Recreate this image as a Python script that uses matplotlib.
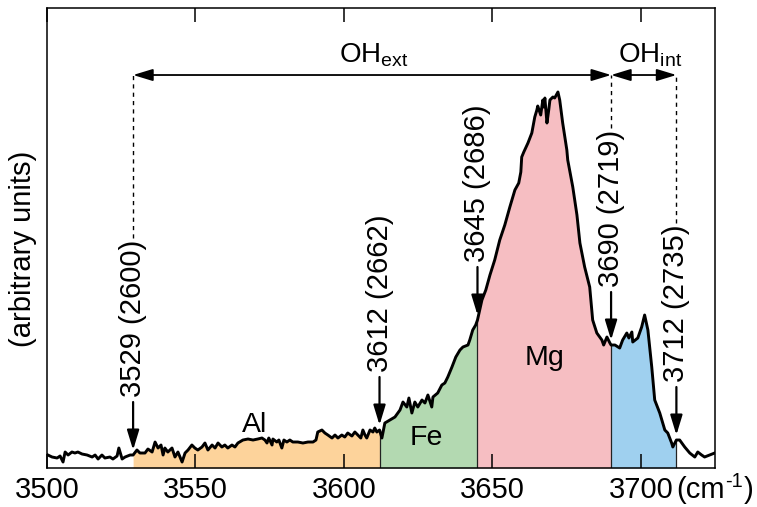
import numpy as np
import matplotlib
matplotlib.use("Agg")
import matplotlib.pyplot as plt

plt.rcParams["font.family"] = ["Liberation Sans", "DejaVu Sans"]
plt.rcParams["mathtext.fontset"] = "custom"
plt.rcParams["mathtext.rm"] = "Liberation Sans"
plt.rcParams["mathtext.it"] = "Liberation Sans:italic"

###############################################################
# data (intensity in arbitrary units)
###############################################################
wavenumber = [
    3500.3, 3501.7, 3503.4, 3504.4, 3505.4, 3506.1, 3507.1, 3508.4, 3509.4, 3510.4,
    3511.8, 3513.5, 3515.2, 3516.2, 3517.2, 3518.5, 3519.5, 3521.2, 3522.2, 3523.6,
    3524.2, 3525.3, 3526.3, 3528.0, 3529.0,
    3530.3, 3531.3, 3533.0, 3534.0, 3535.4, 3536.4, 3537.4, 3538.4, 3539.1, 3539.7,
    3540.7, 3542.1, 3543.1, 3544.1, 3545.5, 3546.5, 3547.5, 3548.8, 3549.8, 3550.8,
    3552.2, 3553.2, 3554.2, 3555.6, 3556.6, 3557.6, 3558.9, 3559.9, 3560.9, 3562.3,
    3563.3, 3564.3, 3566.0, 3567.7, 3569.4, 3571.0, 3572.4, 3573.4, 3574.1, 3574.7,
    3575.8, 3576.1, 3577.4, 3578.1, 3579.1, 3579.8, 3580.8, 3581.8, 3582.8, 3584.5,
    3586.2, 3587.9, 3589.6, 3590.6, 3591.2, 3592.6, 3593.6, 3594.6, 3596.0, 3597.0,
    3598.0, 3599.3, 3600.3, 3601.3, 3602.7, 3603.7, 3604.7, 3605.7, 3606.4, 3607.1,
    3607.7, 3608.8, 3609.8, 3610.4, 3611.1, 3612.0,
    3612.8, 3613.8, 3615.5, 3617.2, 3618.9, 3619.9, 3621.2, 3621.9, 3622.9, 3623.9,
    3624.9, 3626.3, 3627.3, 3628.3, 3629.6, 3630.0, 3631.6, 3633.0, 3634.0, 3635.0,
    3636.4, 3637.7, 3639.1, 3640.1, 3641.8, 3642.4, 3643.4, 3644.4, 3645.0,
    3646.5, 3647.8, 3649.2, 3650.8, 3652.5, 3654.2, 3655.9, 3657.6, 3658.9, 3659.6,
    3659.9, 3660.6, 3662.0, 3663.3, 3664.3, 3665.0, 3665.3, 3666.3, 3667.0, 3667.3,
    3667.7, 3668.4, 3669.0, 3669.4, 3670.4, 3671.0, 3672.1, 3672.7, 3673.7, 3675.1,
    3675.4, 3677.1, 3678.5, 3679.5, 3681.1, 3682.8, 3683.8, 3685.2, 3686.9, 3687.5,
    3688.6, 3689.6, 3690.0,
    3691.3, 3692.9, 3693.9, 3695.3, 3696.0, 3697.0, 3697.3, 3699.0, 3700.3, 3701.3,
    3702.4, 3703.7, 3704.7, 3706.4, 3708.1, 3709.1, 3710.4, 3710.8, 3712.0,
    3713.1, 3714.8, 3716.5, 3718.2, 3719.2, 3720.5, 3721.5, 3723.2, 3724.9,
]
intensity = [
    13, 11, 10, 12, 6, 16, 13, 16, 15, 16,
    14, 13, 11, 13, 9, 13, 10, 11, 9, 12,
    20, 9, 11, 13, 13,
    18, 15, 15, 19, 16, 26, 20, 23, 13, 20,
    16, 20, 11, 16, 6, 15, 18, 23, 20, 18,
    21, 25, 18, 23, 20, 25, 21, 23, 20, 23,
    21, 25, 28, 29, 28, 29, 30, 28, 25, 30,
    23, 29, 26, 28, 20, 28, 26, 28, 26, 26,
    25, 26, 26, 28, 36, 38, 35, 33, 30, 33,
    30, 33, 31, 35, 32, 36, 33, 30, 38, 33,
    30, 38, 36, 40, 36, 38,
    30, 45, 48, 51, 58, 66, 61, 70, 55, 66,
    61, 68, 65, 73, 61, 71, 75, 83, 85, 91,
    101, 111, 118, 121, 123, 128, 138, 143, 148,
    168, 178, 193, 208, 228, 243, 261, 278, 285, 296,
    311, 316, 325, 335, 351, 358, 362, 353, 368, 361,
    370, 345, 358, 368, 371, 370, 376, 368, 345, 318,
    308, 281, 253, 225, 201, 181, 148, 135, 128, 123,
    131, 125, 123,
    123, 120, 128, 135, 130, 136, 126, 130, 141, 153,
    138, 101, 68, 55, 38, 35, 25, 21, 28,
    28, 21, 15, 11, 16, 13, 11, 13, 15,
]

bounds = [3529, 3612, 3645, 3690, 3712]
peak_labels = ["3529 (2600)", "3612 (2662)", "3645 (2686)", "3690 (2719)", "3712 (2735)"]
dashed_at = [3529, 3690, 3712]
band_names = ["Al", "Fe", "Mg", ""]
band_colors = ["#fdd39b", "#b3d9b1", "#f6bec2", "#9fd0ef"]
band_text_x = [3570.0, 3627.6, 3667.7]
band_text_y = [36, 23, 103]

x = np.array(wavenumber)
y = np.array(intensity, float)

###############################################################
# plotting
###############################################################
fig = plt.figure(figsize=(7.57, 5.07), dpi=100)
ax = fig.add_axes([0.0621, 0.0769, 0.8824, 0.9073])

for i in range(len(bounds) - 1):
    m = (x >= bounds[i]) & (x <= bounds[i + 1])
    ax.fill_between(x[m], 0, y[m], color=band_colors[i], lw=0)

for b in bounds[1:]:
    ax.plot([b, b], [0, np.interp(b, x, y)], color="#222222", lw=0.9)

ax.plot(x, y, color="k", lw=2.1)

for name, tx, ty in zip(band_names, band_text_x, band_text_y):
    ax.text(tx, ty, name, ha="center", va="baseline", fontsize=20.5)

# arrows + rotated labels
arr_style = "-|>,head_length=0.92,head_width=0.28"
arr_len = 48
labels = []
for b, lab in zip(bounds, peak_labels):
    tip = np.interp(b, x, y) + 5
    ax.annotate("", xy=(b, tip), xytext=(b, tip + arr_len),
                arrowprops=dict(arrowstyle=arr_style, mutation_scale=13, lw=1.6,
                                color="k", shrinkA=0, shrinkB=0))
    t = ax.text(b, tip + arr_len + 5, lab, rotation=90, ha="center", va="bottom",
                fontsize=21)
    labels.append(t)

# OH ranges on top
y_top = 393
head = dict(arrowstyle="<|-|>,head_length=0.92,head_width=0.28",
            mutation_scale=13, lw=1.3, color="k", shrinkA=0, shrinkB=0)
ax.annotate("", xy=(bounds[0], y_top), xytext=(bounds[3], y_top), arrowprops=head)
ax.annotate("", xy=(bounds[3], y_top), xytext=(bounds[4], y_top), arrowprops=head)
ax.text(3610, 406, r"OH$_{\mathrm{ext}}$", ha="center", va="baseline", fontsize=20)
ax.text(3703, 406, r"OH$_{\mathrm{int}}$", ha="center", va="baseline", fontsize=20)

ax.set_xlim(3500, 3725)
ax.set_ylim(0, 460)
ax.set_xticks([3500, 3550, 3600, 3650, 3700])
ax.set_yticks([])
ax.tick_params(axis="x", direction="in", top=True, length=10, width=1.1,
               labelsize=21, pad=6)
for s in ax.spines.values():
    s.set_linewidth(1.1)

ax.text(-0.036, 0.476, "(arbitrary units)", transform=ax.transAxes, rotation=90,
        ha="center", va="center", fontsize=21)

# unit label "(cm-1)" next to the last tick label, built from pieces
xt = ax.get_xaxis_transform()
u1 = ax.text(3712, -30 / 460, "(cm", transform=xt, ha="left", va="baseline", fontsize=21)

fig.canvas.draw()
r = fig.canvas.get_renderer()
e1 = u1.get_window_extent(r)
u2 = ax.annotate("-1", xy=(e1.x1, e1.y0), xycoords="figure pixels",
                 xytext=(0.5, 9.5), textcoords="offset points",
                 ha="left", va="bottom", fontsize=14.5)
fig.canvas.draw()
e2 = u2.get_window_extent(r)
ax.annotate(")", xy=(e2.x1, e1.y0), xycoords="figure pixels",
            xytext=(0.3, 0), textcoords="offset points",
            ha="left", va="bottom", fontsize=21)

# dashed guides from the label tops up to the range arrows
inv = ax.transData.inverted()
for b, t in zip(bounds, labels):
    if b in dashed_at:
        bb = t.get_window_extent(r)
        top = inv.transform((bb.x0, bb.y1))[1]
        ax.plot([b, b], [top + 2, y_top], color="k", lw=1.0, ls=(0, (3, 3)))

fig.savefig("out.png", dpi=100)
